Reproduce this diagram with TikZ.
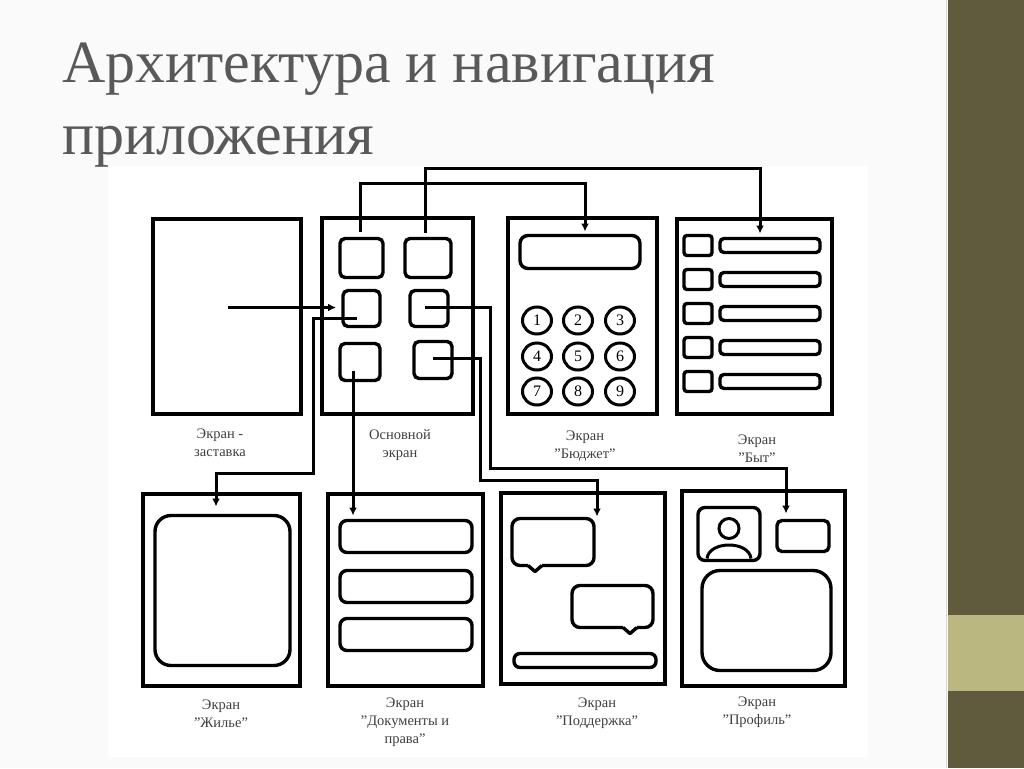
\documentclass[tikz,border=0pt]{standalone}
\usetikzlibrary{shapes.geometric,arrows.meta}
\usepackage{fontspec}
\setmainfont{Liberation Serif}
\newcommand{\qq}{\char"0022\relax}
\begin{document}
\begin{tikzpicture}[x=1pt,y=-1pt,
  scr/.style={draw=black,line width=4pt},
  btn/.style={draw=black,line width=3.4pt,rounded corners=5pt},
  conn/.style={draw=black,line width=3pt},
  arr/.style={conn,-{Latex[length=8pt,width=8pt]}},
  lab/.style={font=\fontsize{14.5}{18}\selectfont,text=black!75,align=center}]
\fill[white!96!gray] (0,0) rectangle (1024,767);
\fill[white] (108,165) rectangle (868,756);
\fill[black!55!olive!80!gray] (948,0) rectangle (1024,767);
\fill[olive!45!white!70!gray] (948,614) rectangle (1024,690);
\draw[white!85!black,line width=1pt] (946,0) -- (946,767);
\node[anchor=base west,text=black!65,font=\fontsize{60}{70}\selectfont,inner sep=0] (t1) at (62,82) {Архитектура и навигация};
\node[anchor=base west,text=black!65,font=\fontsize{60}{70}\selectfont,inner sep=0] (t2) at (62,154) {приложения};
% top row screens
\draw[scr] (153,218) rectangle (301,413);
\draw[scr] (322,217) rectangle (473,413);
\draw[scr] (508,217) rectangle (657,413);
\draw[scr] (677,218) rectangle (832,413);
% main buttons
\node[btn,minimum width=43pt,minimum height=39pt] (b1) at (361.5,257.5) {};
\node[btn,minimum width=46pt,minimum height=39pt] (b2) at (428,257.5) {};
\node[btn,minimum width=37pt,minimum height=36pt] (b3) at (361.5,308) {};
\node[btn,minimum width=38pt,minimum height=36pt] (b4) at (429,308) {};
\node[btn,minimum width=40pt,minimum height=37pt] (b5) at (360,361.5) {};
\node[btn,minimum width=38pt,minimum height=37pt] (b6) at (433,359.5) {};
% budget
\draw[btn,rounded corners=8pt] (520,235) rectangle (640,268);
\foreach \x/\c in {537/0,578/1,620/2}{
  \foreach \y/\r in {320/0,356/1,391/2}{
    \pgfmathtruncatemacro{\n}{\r*3+\c+1}
    \node[draw=black,line width=3pt,ellipse,minimum width=29pt,minimum height=27pt,inner sep=0,font=\fontsize{16}{16}\selectfont] (n\n) at (\x,\y) {\n};
  }}
% byt
\foreach \y in {245,279,313,347,381}{
  \draw[btn,rounded corners=3pt] (684,\y-10) rectangle (712,\y+10);
  \draw[btn,rounded corners=4pt] (720,\y-7) rectangle (820,\y+7);
}
% bottom screens
\draw[scr] (143,493) rectangle (300,685);
\draw[btn,rounded corners=16pt] (155,515) rectangle (290,665);
\draw[scr] (328,493) rectangle (483,685);
\foreach \y in {520,570,618}{\draw[btn,rounded corners=7pt] (340,\y) rectangle (472,\y+32);}
\draw[scr] (501,492) rectangle (665,683);
\draw[btn,rounded corners=8pt] (528,565) -- (512,565) -- (512,518) -- (594,518) -- (594,565) -- (542,565);
\draw[black,line width=3.4pt,line join=round] (542,565) -- (535,571) -- (528,565);
\draw[btn,rounded corners=8pt] (623,627) -- (572,627) -- (572,585) -- (653,585) -- (653,627) -- (637,627);
\draw[black,line width=3.4pt,line join=round] (637,627) -- (630,633) -- (623,627);
\draw[btn,rounded corners=6pt] (514,653) rectangle (656,667);
\draw[scr] (682,490) rectangle (845,685);
\draw[btn,rounded corners=7pt] (698,507) rectangle (760,560);
\draw[black,line width=3pt] (729,528) circle (10pt);
\draw[black,line width=3pt] (707,558) .. controls (709,540) and (749,540) .. (751,558);
\draw[btn] (777,520) rectangle (829,551);
\draw[btn,rounded corners=18pt] (702,570) rectangle (831,670);
% connectors
\coordinate (s) at (228,307);
\coordinate (se) at (336,307);
\coordinate (p5) at (353,370);
\coordinate (p6) at (433,358);
\draw[arr] (s) -- (se);
\draw[arr] (360,231) -- (360,183) -- (585,183) -- (585,231);
\draw[arr] (425,232) -- (425,168) -- (760,168) -- (760,233);
\draw[arr] (357,318) -- (313,318) -- (313,473) -- (216,473) -- (216,506);
\draw[arr] (p5) -- (353,515);
\draw[arr] (p6) -- (480,358) -- (480,480) -- (597,480) -- (597,516);
\draw[arr] (425,307) -- (490,307) -- (490,468) -- (786,468) -- (786,513);
% labels
\node[lab] (l1) at (220,442) {Экран -\\заставка};
\node[lab] (l2) at (400,445) {Основной\\экран};
\node[lab] (l3) at (585,446) {Экран\\\qq Бюджет\qq};
\node[lab] (l4) at (757,448) {Экран\\\qq Быт\qq};
\node[lab] (l5) at (221,713) {Экран\\\qq Жилье\qq};
\node[lab] (l6) at (405,722) {Экран\\\qq Документы и\\права\qq};
\node[lab] (l7) at (597,713) {Экран\\\qq Поддержка\qq};
\node[lab] (l8) at (757,712) {Экран\\\qq Профиль\qq};
\end{tikzpicture}
\end{document}
